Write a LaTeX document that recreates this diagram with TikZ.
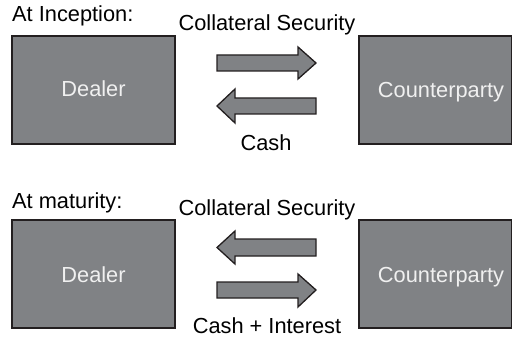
\documentclass[tikz,border=0pt]{standalone}
\usepackage{fontspec}
\setmainfont{Liberation Sans}
\definecolor{boxgray}{RGB}{128,130,133}
\definecolor{edge}{RGB}{35,31,32}
\definecolor{intext}{RGB}{240,240,240}
\begin{document}
\begin{tikzpicture}[x=1pt,y=-1pt,
  lbl/.style={font=\fontsize{21.8}{26}\selectfont, text=black, inner sep=0pt, anchor=base},
  party/.style={draw=edge, line width=1.4pt, fill=boxgray},
  intxt/.style={font=\fontsize{21.8}{26}\selectfont, text=intext, inner sep=0pt, anchor=base},
  blockarrow/.style={draw=edge, line width=1.3pt, fill=boxgray, line join=miter}]
\useasboundingbox (0,0) rectangle (512,337);
% top section
\node[lbl, anchor=base west] (t1) at (12,22) {At Inception:};
\draw[party] (12,36) rectangle (175,144);
\node[intxt] (d1) at (93.5,97) {Dealer};
\draw[party] (359,36) rectangle (511.3,144);
\node[intxt] (c1) at (441,98) {Counterparty};
\node[lbl] (cs1) at (267,31) {Collateral Security};
\node[lbl] (ca1) at (266,150) {Cash};
\draw[blockarrow] (217,55) -- (298,55) -- (298,47) -- (316,63) -- (298,79) -- (298,71) -- (217,71) -- cycle;
\draw[blockarrow] (316,98) -- (235,98) -- (235,89) -- (217,106) -- (235,123) -- (235,114) -- (316,114) -- cycle;
% bottom section
\node[lbl, anchor=base west] (t2) at (12,208) {At maturity:};
\draw[party] (12,220) rectangle (175,328);
\node[intxt] (d2) at (93.5,282) {Dealer};
\draw[party] (359,220) rectangle (511.3,328);
\node[intxt] (c2) at (441,282) {Counterparty};
\node[lbl] (cs2) at (267,215) {Collateral Security};
\node[lbl] (ca2) at (267,333) {Cash + Interest};
\draw[blockarrow] (316,239) -- (235,239) -- (235,231) -- (217,247.5) -- (235,264) -- (235,256) -- (316,256) -- cycle;
\draw[blockarrow] (217,282) -- (298,282) -- (298,274) -- (316,290) -- (298,307) -- (298,298) -- (217,298) -- cycle;
\end{tikzpicture}
\end{document}
